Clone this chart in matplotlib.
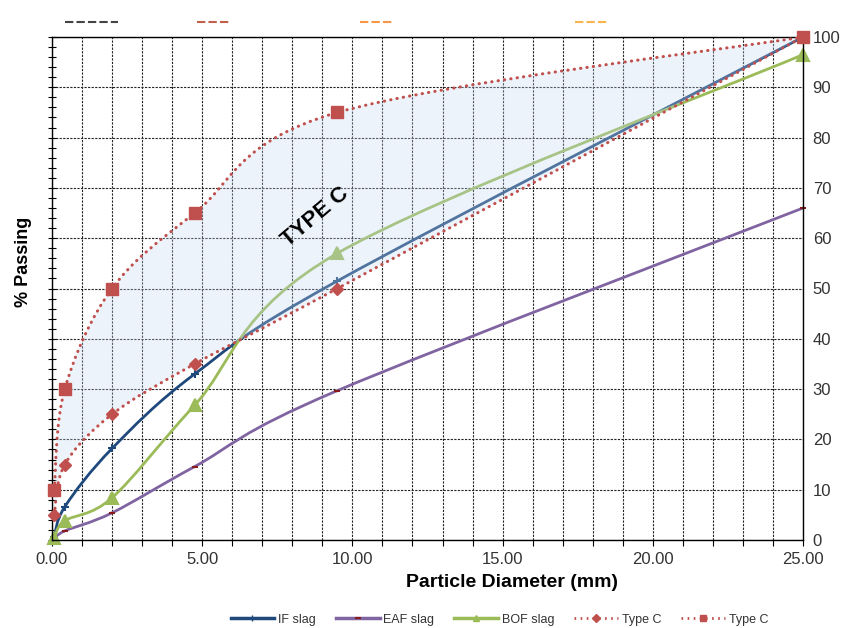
import numpy as np
import matplotlib
matplotlib.use("Agg")
from matplotlib import pyplot as plt
from matplotlib.path import Path
from matplotlib.patches import PathPatch
from matplotlib.lines import Line2D
from matplotlib.ticker import MultipleLocator, FormatStrFormatter

plt.rcParams['font.family'] = ['Liberation Sans', 'DejaVu Sans']

# sieve sizes (mm) and % passing
sieve_mm = [0.075, 0.425, 2.0, 4.75, 9.5, 25.0]
if_slag = [0.5, 6.6, 18.2, 33.0, 51.5, 100.0]
eaf_slag = [0.2, 1.8, 5.4, 14.6, 29.7, 66.0]
bof_slag = [0.3, 3.8, 8.4, 26.8, 57.0, 96.5]
type_c_low = [5, 15, 25, 35, 50, 100]
type_c_high = [10, 30, 50, 65, 85, 100]

BLUE = "#1F497D"
PURPLE = "#8064A2"
GREEN = "#9BBB59"
RED = "#C0504D"


def smooth_path(xs, ys):
    # excel-like smoothed line: catmull-rom turned into bezier segments
    pts = np.column_stack([xs, ys]).astype(float)
    n = len(pts)
    verts = [pts[0]]
    codes = [Path.MOVETO]
    for i in range(n - 1):
        p0 = pts[max(i - 1, 0)]
        p1 = pts[i]
        p2 = pts[i + 1]
        p3 = pts[min(i + 2, n - 1)]
        verts += [p1 + (p2 - p0) / 6, p2 - (p3 - p1) / 6, p2]
        codes += [Path.CURVE4] * 3
    return np.array(verts), codes


fig = plt.figure(figsize=(8.43, 6.28), dpi=100)
ax = fig.add_axes([52 / 843, 1 - 540 / 628, 751 / 843, 503 / 628])
ax.set_xlim(0, 25)
ax.set_ylim(0, 100)

# grid
ax.xaxis.set_major_locator(MultipleLocator(5))
ax.xaxis.set_minor_locator(MultipleLocator(1))
ax.yaxis.set_major_locator(MultipleLocator(10))
ax.yaxis.set_minor_locator(MultipleLocator(2))
ax.xaxis.set_major_formatter(FormatStrFormatter('%.2f'))
gkw = dict(color='#222222', linestyle=(0, (2, 1.2)), linewidth=0.8)
ax.grid(axis='x', which='both', **gkw)
ax.grid(axis='y', which='major', **gkw)
ax.set_axisbelow(True)

# slag curves
for vals, col, mk, ms, mec in [
    (if_slag, BLUE, '+', 6, BLUE),
    (eaf_slag, PURPLE, '_', 5, '#8B1A1A'),
    (bof_slag, GREEN, '^', 8, GREEN),
]:
    v, c = smooth_path(sieve_mm, vals)
    ax.add_patch(PathPatch(Path(v, c), fill=False, edgecolor=col, linewidth=2.0, zorder=2))
    ax.plot(sieve_mm, vals, linestyle='none', marker=mk, markersize=ms,
            color=col, markeredgecolor=mec, markeredgewidth=1.5, zorder=2, clip_on=False)

# shaded Type C band
up_v, up_c = smooth_path(sieve_mm, type_c_high)
lo_v, lo_c = smooth_path(sieve_mm, type_c_low)
band_v = np.vstack([up_v, lo_v[::-1], up_v[:1]])
band_c = up_c + [Path.LINETO] + [Path.CURVE4] * (len(lo_v) - 1) + [Path.CLOSEPOLY]
ax.add_patch(PathPatch(Path(band_v, band_c), facecolor='#C6D9F1', edgecolor='none',
                       alpha=0.3, zorder=3))

# Type C limits
for vals, mk, ms in [(type_c_low, 'D', 6), (type_c_high, 's', 8)]:
    v, c = smooth_path(sieve_mm, vals)
    pp = PathPatch(Path(v, c), fill=False, edgecolor=RED, linewidth=2.2,
                   linestyle=(0, (0.1, 2.0)), zorder=4)
    pp.set_capstyle('round')
    ax.add_patch(pp)
    ax.plot(sieve_mm, vals, linestyle='none', marker=mk, markersize=ms,
            color=RED, markeredgecolor=RED, zorder=5, clip_on=False)

ax.text(8.75, 64.2, "TYPE C", rotation=40, fontsize=16, fontweight='bold',
        ha='center', va='center', zorder=6)

# axes styling
for s in ax.spines.values():
    s.set_color('black')
    s.set_linewidth(1.0)
ax.tick_params(axis='x', which='both', direction='out', length=4, width=0.8,
               labelsize=12, pad=5, colors='black')
ax.tick_params(axis='x', which='major', labelcolor='#333333')
ax.tick_params(axis='y', which='both', direction='inout', length=6, width=0.8,
               left=True, right=False, labelleft=False, labelright=True,
               labelsize=12, pad=4, labelcolor='#333333')

ax.set_xlabel("Particle Diameter (mm)", fontsize=14, fontweight='bold')
ax.xaxis.set_label_coords(0.6125, -0.068)
ax.set_ylabel("% Passing", fontsize=13, fontweight='bold')
ax.yaxis.set_label_coords(-0.027, 0.553)

# legend
handles = [
    Line2D([], [], color=BLUE, lw=2.5, marker='+', markersize=5),
    Line2D([], [], color=PURPLE, lw=2.5, marker='_', markersize=4,
           markeredgecolor='#8B1A1A', markeredgewidth=1.5),
    Line2D([], [], color=GREEN, lw=2.5, marker='^', markersize=4),
    Line2D([], [], color=RED, lw=2.0, linestyle=(0, (0.6, 1.6)), marker='D', markersize=4),
    Line2D([], [], color=RED, lw=2.0, linestyle=(0, (0.6, 1.6)), marker='s', markersize=5),
]
labels = ["IF slag", "EAF slag", "BOF slag", "Type C", "Type C"]
fig.legend(handles, labels, loc='center', bbox_to_anchor=(0.5925, 0.013), ncol=5,
           frameon=False, fontsize=9, handlelength=3.5, columnspacing=1.6,
           handletextpad=0.3, labelcolor='#333333')

# clipped legend remnants along the top edge
for x0, x1, col in [(65, 118, '#444444'), (197, 230, '#C0604A'),
                    (360, 392, '#F79646'), (575, 608, '#F9B54E')]:
    fig.add_artist(Line2D([x0 / 843, x1 / 843], [1 - 22 / 628] * 2, color=col,
                          lw=1.5, linestyle=(0, (4, 1.5)), transform=fig.transFigure))

fig.savefig("out.png", dpi=100)
